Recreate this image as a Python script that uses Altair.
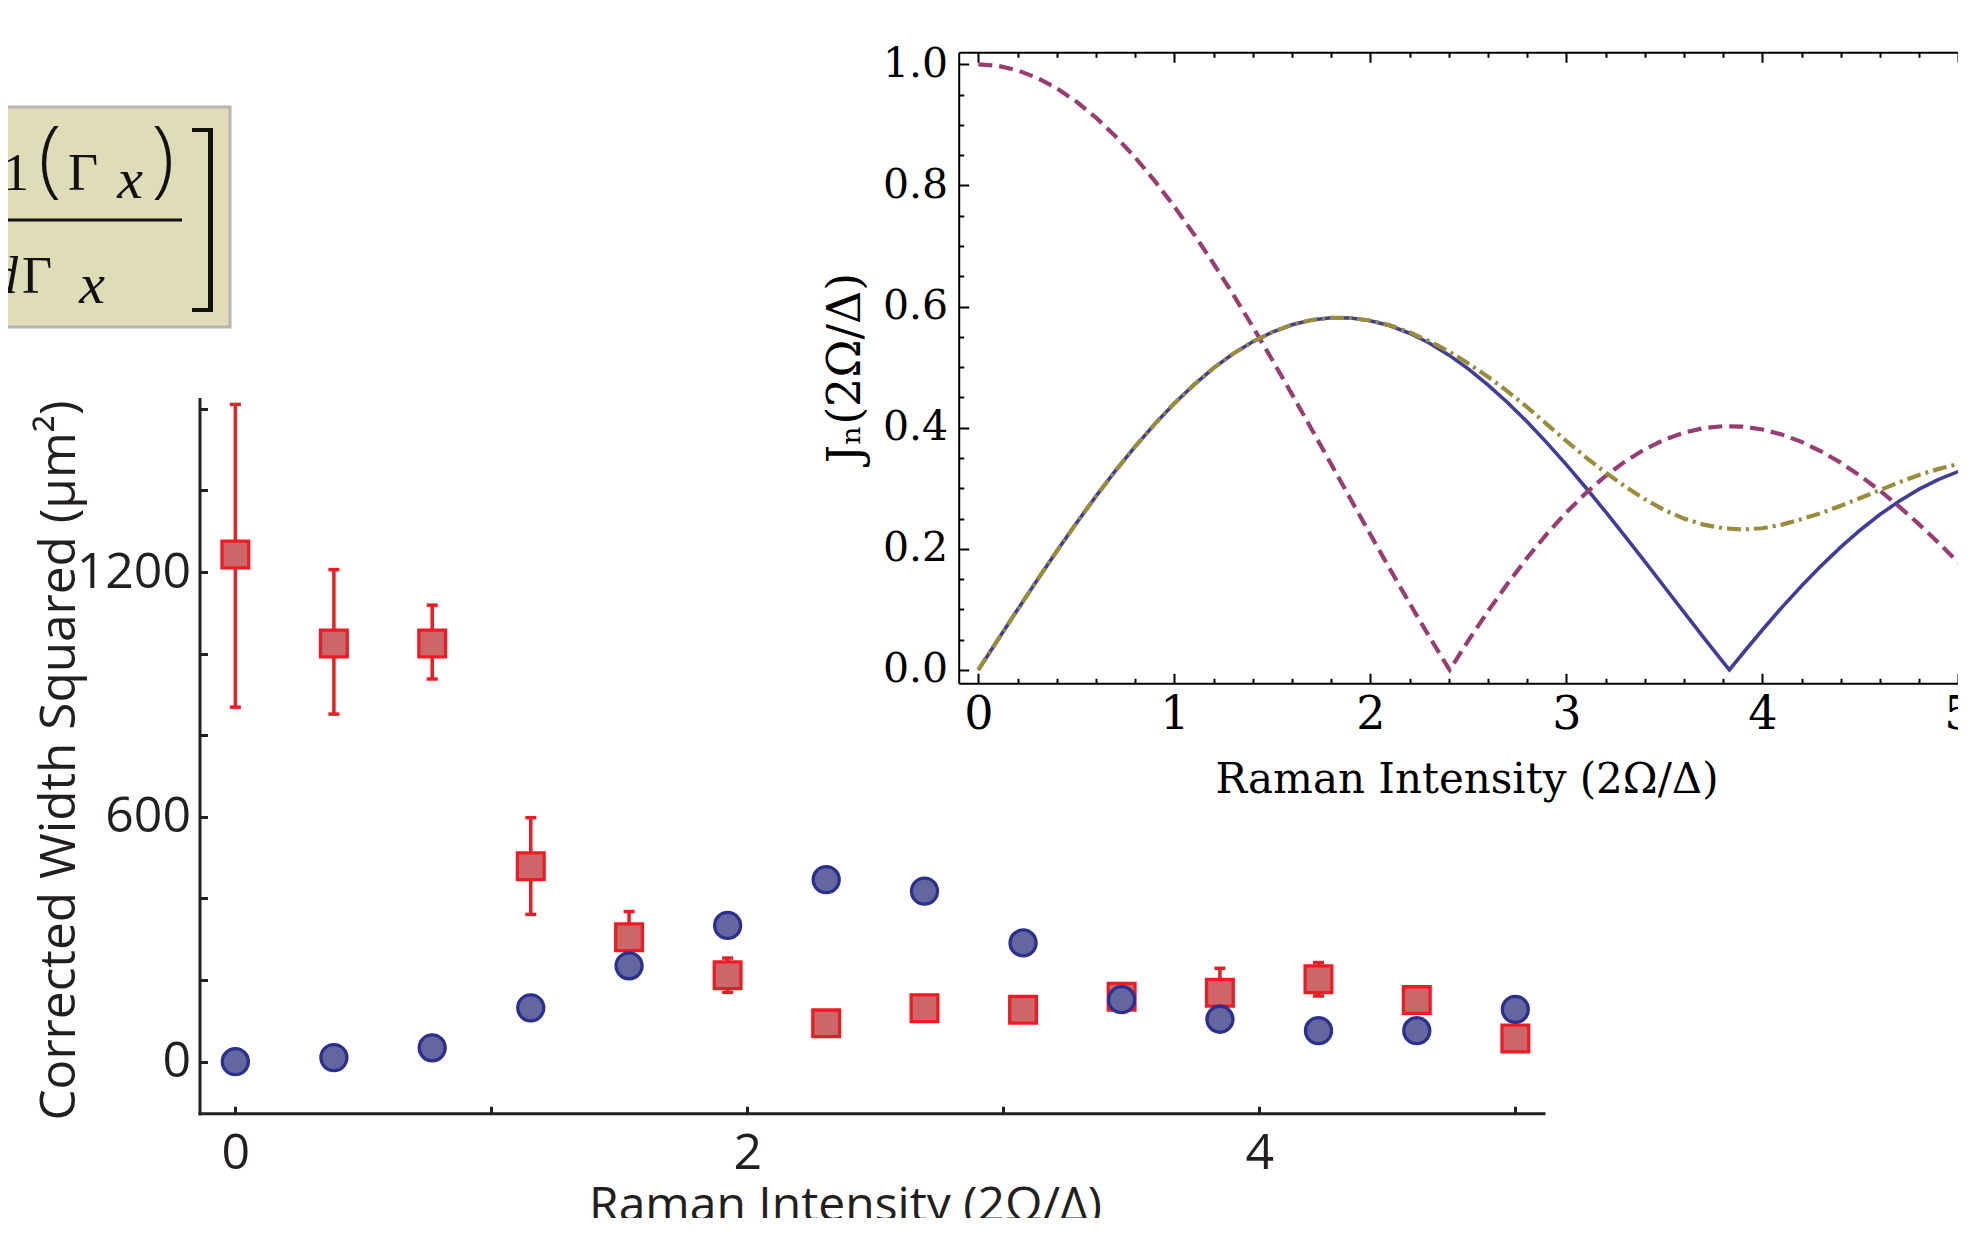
import altair as alt
import pandas as pd

# ---------------- main panel data ----------------
raman_x = [0.0, 0.385, 0.769, 1.154, 1.538, 1.923, 2.308, 2.692, 3.077, 3.462, 3.846, 4.231, 4.615, 5.0]
circle_w2 = [0, 10, 34, 132, 235, 334, 446, 418, 291, 152, 104, 76, 76, 128]
square_w2 = [1243, 1025, 1025, 479, 305, 212, 94, 131, 127, 159, 169, 202, 151, 57]
square_hi = [1611, 1206, 1119, 598, 368, 254, 114, 151, 147, 179, 229, 243, 171, 77]
square_lo = [869, 852, 938, 361, 242, 170, 74, 111, 107, 139, 109, 161, 131, 37]

main_x_ticks = [0, 1, 2, 3, 4, 5]
main_x_labels = [0, 2, 4]
main_y_ticks = [0, 200, 400, 600, 800, 1000, 1200, 1400, 1600]
main_y_labels = [0, 600, 1200]

# ---------------- inset data ----------------
j1_x = [0.0, 0.1, 0.2, 0.3, 0.4, 0.5, 0.6, 0.7, 0.8, 0.9, 1.0, 1.1, 1.2, 1.3, 1.4, 1.5, 1.6, 1.7,
        1.8, 1.9, 2.0, 2.1, 2.2, 2.3, 2.4, 2.5, 2.6, 2.7, 2.8, 2.9, 3.0, 3.1, 3.2, 3.3, 3.4, 3.5,
        3.6, 3.7, 3.8, 3.832, 3.9, 4.0, 4.1, 4.2, 4.3, 4.4, 4.5, 4.6, 4.7, 4.8, 4.9, 5.0]
j1_y = [0.0, 0.0499, 0.0995, 0.1483, 0.1960, 0.2423, 0.2867, 0.3290, 0.3688, 0.4059, 0.4401,
        0.4709, 0.4983, 0.5220, 0.5419, 0.5579, 0.5699, 0.5778, 0.5815, 0.5812, 0.5767, 0.5683,
        0.5560, 0.5399, 0.5202, 0.4971, 0.4708, 0.4416, 0.4097, 0.3754, 0.3391, 0.3009, 0.2613,
        0.2207, 0.1792, 0.1374, 0.0955, 0.0538, 0.0128, 0.0, 0.0272, 0.0660, 0.1033, 0.1386,
        0.1719, 0.2028, 0.2311, 0.2566, 0.2791, 0.2985, 0.3147, 0.3276]
j0_x = [0.0, 0.1, 0.2, 0.3, 0.4, 0.5, 0.6, 0.7, 0.8, 0.9, 1.0, 1.1, 1.2, 1.3, 1.4, 1.5, 1.6, 1.7,
        1.8, 1.9, 2.0, 2.1, 2.2, 2.3, 2.4, 2.405, 2.5, 2.6, 2.7, 2.8, 2.9, 3.0, 3.1, 3.2, 3.3, 3.4,
        3.5, 3.6, 3.7, 3.8, 3.9, 4.0, 4.1, 4.2, 4.3, 4.4, 4.5, 4.6, 4.7, 4.8, 4.9, 5.0]
j0_y = [1.0, 0.9975, 0.9900, 0.9776, 0.9604, 0.9385, 0.9120, 0.8812, 0.8463, 0.8075, 0.7652,
        0.7196, 0.6711, 0.6201, 0.5669, 0.5118, 0.4554, 0.3980, 0.3400, 0.2818, 0.2239, 0.1666,
        0.1104, 0.0555, 0.0025, 0.0, 0.0484, 0.0968, 0.1424, 0.1850, 0.2243, 0.2601, 0.2921,
        0.3202, 0.3443, 0.3643, 0.3801, 0.3918, 0.3992, 0.4026, 0.4018, 0.3971, 0.3887, 0.3766,
        0.3610, 0.3423, 0.3205, 0.2961, 0.2693, 0.2404, 0.2097, 0.1776]
olive_x = [0.0, 0.1, 0.2, 0.3, 0.4, 0.5, 0.6, 0.7, 0.8, 0.9, 1.0, 1.1, 1.2, 1.3, 1.4, 1.5, 1.6,
           1.7, 1.8, 1.9, 2.0, 2.1, 2.2, 2.3, 2.4, 2.5, 2.6, 2.7, 2.8, 2.9, 3.0, 3.1, 3.2, 3.3,
           3.4, 3.5, 3.6, 3.7, 3.8, 3.9, 4.0, 4.1, 4.2, 4.3, 4.4, 4.5, 4.6, 4.7, 4.8, 4.9, 5.0]
olive_y = [0.0, 0.0499, 0.0995, 0.1483, 0.1960, 0.2423, 0.2867, 0.3290, 0.3688, 0.4059, 0.4401,
           0.4709, 0.4983, 0.5220, 0.5419, 0.5579, 0.5699, 0.5778, 0.5815, 0.5812, 0.5770, 0.5690,
           0.5575, 0.5430, 0.5260, 0.5060, 0.4840, 0.4600, 0.4340, 0.4060, 0.3780, 0.3510, 0.3260,
           0.3030, 0.2820, 0.2640, 0.2500, 0.2400, 0.2340, 0.2320, 0.2340, 0.2400, 0.2490, 0.2590,
           0.2710, 0.2840, 0.2970, 0.3100, 0.3220, 0.3320, 0.3400]

inset_x_ticks = [0.0, 0.2, 0.4, 0.6, 0.8, 1.0, 1.2, 1.4, 1.6, 1.8, 2.0, 2.2, 2.4, 2.6, 2.8, 3.0,
                 3.2, 3.4, 3.6, 3.8, 4.0, 4.2, 4.4, 4.6, 4.8, 5.0]
inset_x_labels = [0, 1, 2, 3, 4, 5]
inset_y_ticks = [0.0, 0.05, 0.1, 0.15, 0.2, 0.25, 0.3, 0.35, 0.4, 0.45, 0.5, 0.55, 0.6, 0.65,
                 0.7, 0.75, 0.8, 0.85, 0.9, 0.95, 1.0]
inset_y_labels = [0.0, 0.2, 0.4, 0.6, 0.8, 1.0]

# ---------------- layout constants ----------------
W, H = 1950, 1210
AX = "#231f20"
SANS = "Open Sans"
SERIF = "DejaVu Serif"
RED = "#ed1c24"
SQ_FILL = "#cd6668"
CI_FILL = "#63669f"
CI_STROKE = "#2b2f8f"
C_BLUE = "#3f3d99"
C_PURPLE = "#993d71"
C_OLIVE = "#998d3d"

MX0, MX1 = 191.5, 1535.5
MY0, MY1 = 1105.3, 391.1
IX0, IX1 = 950.7, 1969.9
IY0, IY1 = 675.3, 44.3


def mx_scale():
    return alt.Scale(domain=[-0.14, 5.11], range=[MX0, MX1], nice=False, zero=False)


def my_scale():
    return alt.Scale(domain=[-126.5, 1624], range=[MY0, MY1], nice=False, zero=False)


def ix_scale():
    return alt.Scale(domain=[-0.1, 5.1], range=[IX0, IX1], nice=False, zero=False)


def iy_scale():
    return alt.Scale(domain=[-0.022, 1.0198], range=[IY0, IY1], nice=False, zero=False)


common = dict(grid=False, labelFlush=False, labelOverlap=False, labelBound=False)

# main axes
ax_main_x = alt.Axis(orient="bottom", offset=-(H - MY0), values=main_x_labels, format="d",
                     ticks=False, tickSize=0, domain=True, domainColor=AX, domainWidth=3,
                     domainCap="square",
                     labelFont=SANS, labelFontSize=50, labelColor=AX, labelPadding=15,
                     title="Raman Intensity (2Ω/Δ)", titleFont=SANS, titleFontSize=48,
                     titleFontWeight="normal", titleColor=AX, titleX=837, titleY=107,
                     titleBaseline="alphabetic", titleAlign="center", **common)
ax_main_xt = alt.Axis(orient="top", offset=-MY0, values=main_x_ticks, ticks=True, tickSize=7,
                      tickWidth=3, tickColor=AX, domain=False, labels=False, **common)
ax_main_y = alt.Axis(orient="left", offset=-MX0, values=main_y_labels, format="d",
                     ticks=False, tickSize=0, domain=True, domainColor=AX, domainWidth=3,
                     domainCap="square",
                     labelFont=SANS, labelFontSize=50, labelColor=AX, labelPadding=9,
                     title="Corrected Width Squared (μm²)", titleFont=SANS, titleFontSize=49.5,
                     titleFontWeight="normal", titleColor=AX, titleX=-125, titleY=752,
                     titleAngle=270, titleBaseline="alphabetic", titleAlign="center", **common)
ax_main_yt = alt.Axis(orient="right", offset=-(W - MX0), values=main_y_ticks, ticks=True,
                      tickSize=8, tickWidth=3, tickColor=AX, domain=False, labels=False, **common)

# inset axes
x_major = "abs(datum.value - round(datum.value)) < 0.001"
y_major = "abs(datum.value * 5 - round(datum.value * 5)) < 0.001"
ax_in_x = alt.Axis(orient="bottom", offset=-(H - IY0), values=inset_x_labels, format="d",
                   ticks=False, tickSize=0, domain=True, domainColor="black", domainWidth=2,
                   labelFont=SERIF, labelFontSize=46, labelColor="black", labelPadding=9,
                   title="Raman Intensity (2Ω/Δ)", titleFont=SERIF, titleFontSize=42,
                   titleFontWeight="normal", titleColor="black", titleX=1458.5, titleY=108.7,
                   titleBaseline="alphabetic", titleAlign="center", **common)
ax_in_xt = alt.Axis(orient="top", offset=-IY0, values=inset_x_ticks, ticks=True,
                    tickSize={"condition": {"test": x_major, "value": 10}, "value": 5},
                    tickWidth=2, tickColor="black", domain=False, labels=False, **common)
ax_in_top = alt.Axis(orient="bottom", offset=-(H - IY1), values=inset_x_ticks, ticks=True,
                     tickSize={"condition": {"test": x_major, "value": 10}, "value": 5},
                     tickWidth=2, tickColor="black", domain=True, domainColor="black",
                     domainWidth=2, labels=False, **common)
ax_in_y = alt.Axis(orient="left", offset=-IX0, values=inset_y_labels, format=".1f",
                   ticks=False, tickSize=0, domain=True, domainColor="black", domainWidth=2,
                   labelFont=SERIF, labelFontSize=41, labelColor="black", labelPadding=11,
                   title="Jₙ(2Ω/Δ)", titleFont=SERIF, titleFontSize=46,
                   titleFontWeight="normal", titleColor="black", titleX=-99.2, titleY=359.5,
                   titleAngle=270, titleBaseline="alphabetic", titleAlign="center", **common)
ax_in_yt = alt.Axis(orient="right", offset=-(W - IX0), values=inset_y_ticks, ticks=True,
                    tickSize={"condition": {"test": y_major, "value": 10}, "value": 5},
                    tickWidth=2, tickColor="black", domain=False, labels=False, **common)

# ---------------- data frames ----------------
sq_df = pd.DataFrame({"x": raman_x, "w2": square_w2, "lo": square_lo, "hi": square_hi})
ci_df = pd.DataFrame({"x": raman_x, "w2": circle_w2})
cap_df = pd.DataFrame({"x": raman_x + raman_x, "cap": square_hi + square_lo})
j1_df = pd.DataFrame({"x": j1_x, "v": j1_y})
j0_df = pd.DataFrame({"x": j0_x, "v": j0_y})
ol_df = pd.DataFrame({"x": olive_x, "v": olive_y})

# ---------------- main panel layers ----------------
err = alt.Chart(sq_df).mark_rule(color=RED, strokeWidth=3.5).encode(
    x=alt.X("x:Q", scale=mx_scale(), axis=ax_main_x),
    y=alt.Y("lo:Q", scale=my_scale(), axis=ax_main_y),
    y2="hi:Q",
)
caps = alt.Chart(cap_df).mark_tick(orient="horizontal", size=11, thickness=3.5, color=RED,
                                   opacity=1).encode(
    x=alt.X("x:Q", scale=mx_scale(), axis=ax_main_xt, title=None),
    y=alt.Y("cap:Q", scale=my_scale(), axis=ax_main_yt, title=None),
)
squares = alt.Chart(sq_df).mark_point(shape="square", size=713, filled=True, fill=SQ_FILL,
                                      stroke=RED, strokeWidth=3.3, opacity=1).encode(
    x=alt.X("x:Q", scale=mx_scale(), axis=None),
    y=alt.Y("w2:Q", scale=my_scale(), axis=None),
)
circles = alt.Chart(ci_df).mark_point(shape="circle", size=676, filled=True, fill=CI_FILL,
                                      stroke=CI_STROKE, strokeWidth=3.3, opacity=1).encode(
    x=alt.X("x:Q", scale=mx_scale(), axis=None),
    y=alt.Y("w2:Q", scale=my_scale(), axis=None),
)

# ---------------- inset layers ----------------
blue = alt.Chart(j1_df).mark_line(color=C_BLUE, strokeWidth=3.6).encode(
    x=alt.X("x:Q", scale=ix_scale(), axis=ax_in_x),
    y=alt.Y("v:Q", scale=iy_scale(), axis=ax_in_y),
)
purple = alt.Chart(j0_df).mark_line(color=C_PURPLE, strokeWidth=4.2, strokeDash=[14, 7]).encode(
    x=alt.X("x:Q", scale=ix_scale(), axis=ax_in_xt, title=None),
    y=alt.Y("v:Q", scale=iy_scale(), axis=ax_in_yt, title=None),
)
olive = alt.Chart(ol_df).mark_line(color=C_OLIVE, strokeWidth=4.2,
                                    strokeDash=[14, 5, 3, 5]).encode(
    x=alt.X("x:Q", scale=ix_scale(), axis=ax_in_top, title=None),
    y=alt.Y("v:Q", scale=iy_scale(), axis=None),
)

# ---------------- equation box fragment (top-left) ----------------
one = pd.DataFrame({"k": [0]})
BOX_FILL = "#dfddb8"
box = alt.Chart(one).mark_rect(fill=BOX_FILL, stroke="#b4b4b4", strokeWidth=3).encode(
    x=alt.value(-20), x2=alt.value(222), y=alt.value(99), y2=alt.value(319))


def txt(s, x, y, size, style="normal", font="Liberation Serif", align="center", weight=400):
    return alt.Chart(one).mark_text(text=s, font=font, fontSize=size, fontStyle=style,
                                    fontWeight=weight, align=align, baseline="alphabetic",
                                    color="#111111").encode(
        x=alt.value(x), y=alt.value(y))


eq_parts = [
    txt("1", 8, 182, 52),
    txt("(", 42, 179, 84, font="Open Sans", weight=300),
    txt("Γ", 75, 182, 52),
    txt("x", 122, 190, 58, style="italic"),
    txt(")", 155, 179, 84, font="Open Sans", weight=300),
    txt("d", 10, 285, 52, style="italic", align="right"),
    txt("Γ", 29, 285, 52),
    txt("x", 84, 295, 58, style="italic"),
]
frac = alt.Chart(one).mark_rule(color="#111111", strokeWidth=3).encode(
    x=alt.value(-10), x2=alt.value(174), y=alt.value(212))
br_v = alt.Chart(one).mark_rule(color="#111111", strokeWidth=5).encode(
    x=alt.value(202.5), y=alt.value(120), y2=alt.value(304))
br_t = alt.Chart(one).mark_rule(color="#111111", strokeWidth=4).encode(
    x=alt.value(184), x2=alt.value(205), y=alt.value(122))
br_b = alt.Chart(one).mark_rule(color="#111111", strokeWidth=4).encode(
    x=alt.value(184), x2=alt.value(205), y=alt.value(302))

chart = alt.layer(
    box, frac, br_v, br_t, br_b, *eq_parts,
    err, caps, squares, circles,
    blue, purple, olive,
).resolve_scale(x="independent", y="independent").resolve_axis(
    x="independent", y="independent"
).properties(
    width=W, height=H, autosize=alt.AutoSizeParams(type="none"), padding=0,
    background="white",
).configure_view(strokeWidth=0)

chart.save("out.html", embed_options={"renderer": "svg", "actions": False})
